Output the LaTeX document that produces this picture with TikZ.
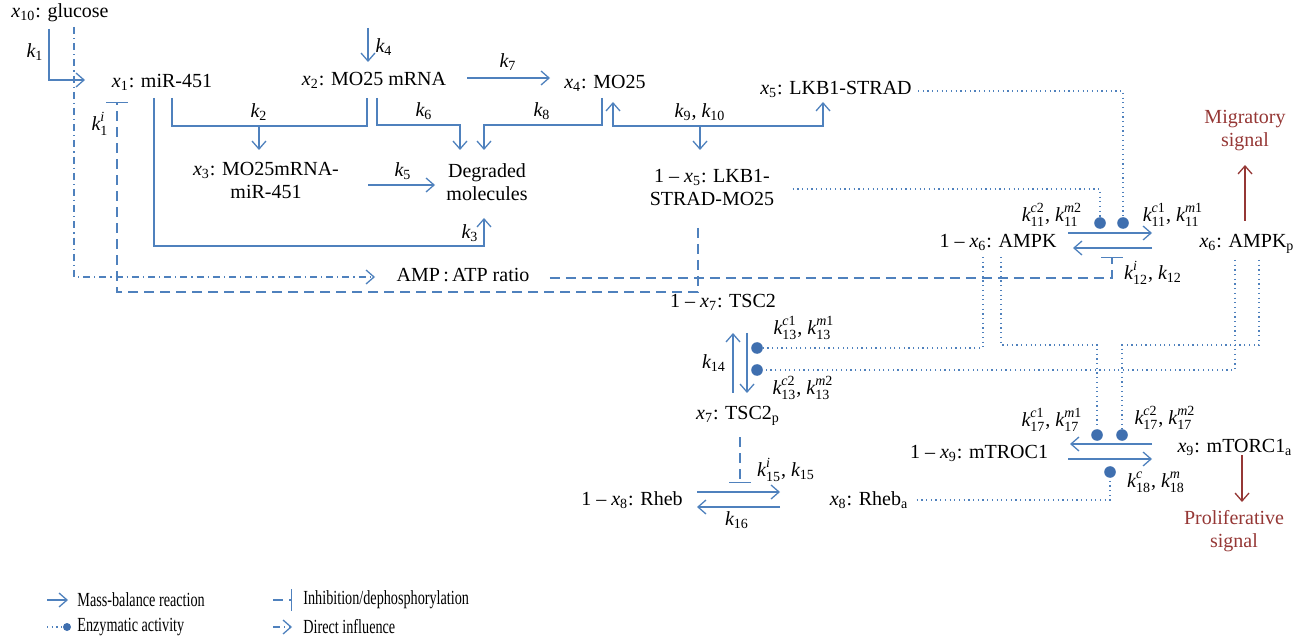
\documentclass[tikz,border=0pt]{standalone}
\usepackage{fontspec}
\setmainfont{Liberation Serif}
\usepackage{amsmath}
\usepackage{graphicx}
\usetikzlibrary{arrows.meta}
\definecolor{blu}{HTML}{4F81BD}
\definecolor{dotc}{HTML}{3F6FAF}
\definecolor{redc}{HTML}{953735}
\newcommand{\xv}[1]{$\textit{x}_{\text{#1}}$}
\newcommand{\kv}[1]{$\textit{k}_{\text{#1}}$}
\newcommand{\ks}[3]{$\textit{k}_{\text{#1}}^{\textit{#2}\text{#3}}$}
\newcommand{\narrow}[1]{\scalebox{0.71}[1]{#1}}
\begin{document}
\begin{tikzpicture}[x=0.5pt,y=-0.5pt,
  every node/.style={inner sep=0pt, font=\fontsize{10}{11.5}\selectfont},
  ln/.style={draw=blu, line width=0.65pt},
  mb/.style={ln, -{Straight Barb[length=4pt,width=7pt]}},
  mbb/.style={ln, {Straight Barb[length=4pt,width=7pt]}-{Straight Barb[length=4pt,width=7pt]}},
  enz/.style={draw=blu, line width=0.6pt, dash pattern=on 0.6pt off 1.75pt},
  inh/.style={draw=blu, line width=0.65pt, dash pattern=on 5pt off 3pt, -{Bar[width=11pt,line width=0.65pt]}},
  di/.style={draw=blu, line width=0.65pt, dash pattern=on 3.5pt off 2pt on 0.6pt off 2pt, -{Straight Barb[length=4pt,width=7pt]}},
  rd/.style={draw=redc, line width=0.65pt, -{Straight Barb[length=4pt,width=7pt]}},
  sig/.style={text=redc, align=center},
  enzdot/.style={fill=dotc, draw=none, circle, minimum size=5.8pt}
]
\useasboundingbox (0,0) rectangle (1309,640);

% species
\node (glu) at (60,13) {\xv{10}: glucose};
\node (x1) at (162,82) {\xv{1}: miR-451};
\node (x2) at (374,80) {\xv{2}: MO25 mRNA};
\node (x4) at (605,83) {\xv{4}: MO25};
\node (x5) at (836,89) {\xv{5}: LKB1-STRAD};
\node[align=center] (x3) at (266,180) {\xv{3}: MO25mRNA-\\miR-451};
\node[align=center] (deg) at (487,182) {Degraded\\molecules};
\node[align=center] (x5c) at (712,188) {1 – \xv{5}: LKB1-\\STRAD-MO25};
\node (amp) at (463,275) {AMP\,:\,ATP ratio};
\node (x7n) at (723,302) {1 – \xv{7}: TSC2};
\node (x7) at (738,416) {\xv{7}: TSC2\textsubscript{p}};
\node (x8n) at (632,500) {1 – \xv{8}: Rheb};
\node (x8) at (869,500) {\xv{8}: Rheb\textsubscript{a}};
\node (x6n) at (998,242) {1 – \xv{6}: AMPK};
\node (x6) at (1247,244) {\xv{6}: AMPK\textsubscript{p}};
\node (x9n) at (979,453) {1 – \xv{9}: mTROC1};
\node (x9) at (1235,447) {\xv{9}: mTORC1\textsubscript{a}};
\node[sig] (mig) at (1245,131) {Migratory\\signal};
\node[sig] (pro) at (1234,531) {Proliferative\\signal};

% enzymatic dots
\node[enzdot] (d11a) at (1100,223) {};
\node[enzdot] (d11b) at (1123,223) {};
\node[enzdot] (d13a) at (757,348) {};
\node[enzdot] (d13b) at (757,370) {};
\node[enzdot] (d17a) at (1097,435) {};
\node[enzdot] (d17b) at (1122,435) {};
\node[enzdot] (d18) at (1110,472) {};

% top reactions
\draw[mb] (49,29) |- (85,80);
\node (lk1) at (35,52) {\kv{1}};
\draw[di] (74,27) |- (375,277);
\draw[inh] (698,228) |- (117,292) -- (117,102);
\node (lk1i) at (100,124) {\ks{1}{i}{}};
\draw[mb] (368,28) -- (368,62);
\node (lk4) at (384,47) {\kv{4}};
\draw[ln] (172,98) |- (367,126) -- (367,98);
\draw[mb] (259,126) -- (259,150);
\node (lk2) at (259,112) {\kv{2}};
\draw[mb] (377,98) |- (460,125) -- (460,150);
\node (lk6) at (424,111) {\kv{6}};
\draw[mb] (602,98) |- (484,125) -- (484,150);
\node (lk8) at (542,111) {\kv{8}};
\draw[mb] (467,78) -- (550,78);
\node (lk7) at (508,62) {\kv{7}};
\draw[mbb] (613,102) |- (823,126) -- (823,102);
\draw[mb] (700,126) -- (700,150);
\node (lk9) at (700,112) {\kv{9}, \kv{10}};
\draw[mb] (368,185) -- (435,185);
\node (lk5) at (403,171) {\kv{5}};
\draw[mb] (154,98) |- (484,246) -- (484,218);
\node (lk3) at (470,233) {\kv{3}};

% AMPK
\draw[mb] (1068,233) -- (1152,233);
\draw[mb] (1152,248) -- (1073,248);
\node (lk11a) at (1052,215) {\ks{11}{c}{2}, \ks{11}{m}{2}};
\node (lk11b) at (1173,215) {\ks{11}{c}{1}, \ks{11}{m}{1}};
\draw[inh] (amp.east) ++(20,3) -| (1112,257);
\node (lk12) at (1153,273) {\ks{12}{i}{}, \kv{12}};
\draw[enz] (x5c.east) ++(18,1) -| (d11a);
\draw[enz] (x5.east) ++(6,2) -| (d11b);

% TSC2
\draw[mb] (733,393) -- (733,333);
\draw[mb] (747,333) -- (747,393);
\node (lk14) at (714,363) {\kv{14}};
\node (lk13a) at (804,328) {\ks{13}{c}{1}, \ks{13}{m}{1}};
\node (lk13b) at (803,388) {\ks{13}{c}{2}, \ks{13}{m}{2}};
\draw[enz] (983,257) |- (d13a);
\draw[enz] (1235,260) |- (d13b);
\draw[enz] (1001,257) |- (1097,345) -- (d17a);
\draw[enz] (1259,260) |- (1122,345) -- (d17b);

% Rheb
\draw[mb] (697,492) -- (780,492);
\draw[mb] (780,507) -- (697,507);
\draw[inh] (740,437) -- (740,483);
\node (lk15) at (786,470) {\ks{15}{i}{}, \kv{15}};
\node (lk16) at (737,520) {\kv{16}};

% mTORC1
\draw[mb] (1152,444) -- (1070,444);
\draw[mb] (1068,459) -- (1152,459);
\node (lk17a) at (1052,420) {\ks{17}{c}{1}, \ks{17}{m}{1}};
\node (lk17b) at (1165,418) {\ks{17}{c}{2}, \ks{17}{m}{2}};
\node (lk18) at (1156,482) {\ks{18}{c}{}, \ks{18}{m}{}};
\draw[enz] (x8.east) ++(8,0) -| (d18);

% signals
\draw[rd] (1245,221) -- (1245,165);
\draw[rd] (1242,455) -- (1242,502);

% legend
\draw[mb] (47,600) -- (68,600);
\node[anchor=west] (lg1) at (77,600) {\narrow{Mass-balance reaction}};
\draw[enz] (47,627) -- (63,627);
\node[enzdot, minimum size=4pt] (lgd) at (67,627) {};
\node[anchor=west] (lg2) at (77,627) {\narrow{Enzymatic activity}};
\draw[inh] (273,600) -- (292,600);
\node[anchor=west] (lg3) at (303,600) {\narrow{Inhibition/dephosphorylation}};
\draw[di] (273,627) -- (292,627);
\node[anchor=west] (lg4) at (303,627) {\narrow{Direct influence}};
\end{tikzpicture}
\end{document}
